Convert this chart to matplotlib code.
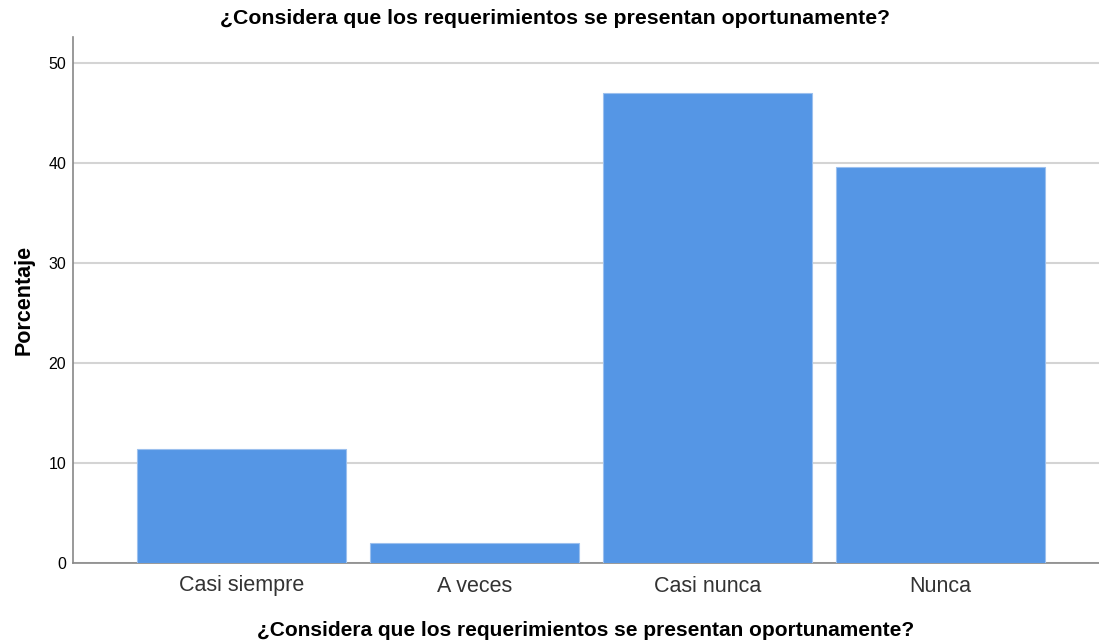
import numpy as np
import matplotlib.pyplot as plt

# datos del grafico
categorias = ["Casi siempre", "A veces", "Casi nunca", "Nunca"]
porcentajes = [11.4, 2.0, 47.0, 39.6]
ticks_y = [0, 10, 20, 30, 40, 50]
titulo = "¿Considera que los requerimientos se presentan oportunamente?"

plt.rcParams['font.family'] = ['Liberation Sans', 'DejaVu Sans']

fig = plt.figure(figsize=(10.99, 6.41), dpi=100)
ax = fig.add_axes([73/1099, 78/641, 1 - 73/1099, (563-37)/641])

x = np.arange(len(categorias))
ax.bar(x, porcentajes, width=0.897, color="#5596E5", edgecolor="#9cc0ee", linewidth=0.8, zorder=3)

ax.set_xlim(-0.724, 3.68)
ax.set_ylim(0, 52.6)
ax.set_yticks(ticks_y)
ax.yaxis.grid(True, color="#d4d4d4", linewidth=1.5, zorder=0)
ax.set_xticks(x)
ax.set_xticklabels(categorias, fontsize=15.5, color="#333333")
ax.tick_params(axis="y", labelsize=11.5, length=0, pad=5)
ax.tick_params(axis="x", length=0, pad=9)

for s in ["top", "right"]:
    ax.spines[s].set_visible(False)
for s in ["left", "bottom"]:
    ax.spines[s].set_color("#888888")
    ax.spines[s].set_linewidth(1.2)

ax.set_ylabel("Porcentaje", fontsize=15.5, fontweight="bold", labelpad=10)
ax.set_xlabel(titulo, fontsize=15, fontweight="bold", labelpad=18)
fig.text(0.505, 1 - 18/641, titulo, ha="center", va="center", fontsize=15.3, fontweight="bold")

fig.savefig("out.png", dpi=100)
